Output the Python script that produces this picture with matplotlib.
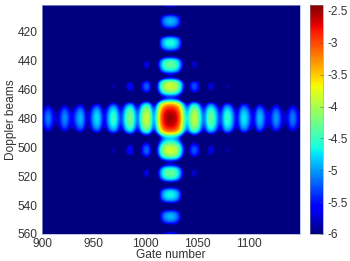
import matplotlib
matplotlib.use("Agg")
import matplotlib.pyplot as plt
import numpy as np

plt.rcParams["font.family"] = ["Liberation Sans", "DejaVu Sans"]

# level along the gate axis relative to the peak, one sample every 4 gates from 900
gate_profile = [
    -3.35, -2.62, -2.62, -3.35, -3.30, -2.57, -2.57, -3.30,
    -2.85, -2.37, -2.50, -3.60, -2.70, -2.20, -2.35, -3.40,
    -2.45, -1.97, -2.10, -3.20, -2.15, -1.67, -1.80, -3.00,
    -1.80, -1.32, -1.45, -2.90, -1.40, -0.40, -0.08, 0.00,
    -0.08, -0.40, -1.40, -2.60, -1.50, -1.37, -1.85, -3.00,
    -1.90, -1.77, -2.25, -3.20, -2.10, -1.97, -2.45, -3.40,
    -2.30, -2.17, -2.65, -3.40, -2.37, -2.37, -3.10, -3.25,
    -2.52, -2.52, -3.25, -3.35, -2.62, -2.62, -3.35,
]

# log level along the Doppler axis, one sample every 3 beams from 400
doppler_profile = [
    -5.10, -5.65, -7.00, -5.15, -4.82, -4.90, -5.45, -7.00,
    -4.85, -4.52, -4.60, -5.15, -6.80, -4.55, -4.22, -4.30,
    -4.85, -6.50, -4.10, -3.77, -3.85, -4.40, -6.00, -3.60,
    -2.95, -2.62, -2.47, -2.45, -2.55, -2.78, -3.25, -5.00,
    -4.60, -3.90, -3.75, -3.90, -4.60, -6.40, -4.55, -4.22,
    -4.30, -4.85, -6.80, -4.90, -4.57, -4.65, -5.20, -7.00,
    -5.15, -4.82, -4.90, -5.45, -7.00, -5.45, -5.12,
]

x_ticks = [900, 950, 1000, 1050, 1100]
y_ticks = [420, 440, 460, 480, 500, 520, 540, 560]
cbar_ticks = [-2.5, -3, -3.5, -4, -4.5, -5, -5.5, -6]
cbar_labels = ["-2.5", "-3", "-3.5", "-4", "-4.5", "-5", "-5.5", "-6"]

field = np.add.outer(np.array(doppler_profile), np.array(gate_profile))
text_color = "#333333"

fig = plt.figure(figsize=(3.5, 2.61), dpi=100)
ax = fig.add_axes([42 / 350, 1 - 234 / 261, 258 / 350, 229.5 / 261])
im = ax.imshow(field, cmap="jet", vmin=-6, vmax=-2.4, aspect="auto",
               interpolation="bicubic", extent=[898, 1150, 563.5, 398.5])
ax.set_xlim(900, 1149)
ax.set_ylim(560, 401)
ax.set_xticks(x_ticks)
ax.set_yticks(y_ticks)
ax.tick_params(length=0, labelsize=8.6, labelcolor=text_color, pad=3)
ax.set_xlabel("Gate number", fontsize=8.6, color=text_color, labelpad=-0.5)
ax.set_ylabel("Doppler beams", fontsize=8.6, color=text_color, labelpad=1)
for spine in ax.spines.values():
    spine.set_edgecolor("#9fb0d8")
    spine.set_linewidth(0.5)

cax = fig.add_axes([310 / 350, 1 - 234 / 261, 13 / 350, 229.5 / 261])
cbar = fig.colorbar(im, cax=cax)
cbar.set_ticks(cbar_ticks)
cbar.set_ticklabels(cbar_labels)
cbar.ax.tick_params(length=2, width=0.4, direction="in", color="#555555",
                    labelsize=8.6, labelcolor=text_color, pad=3)
cbar.outline.set_edgecolor("#888888")
cbar.outline.set_linewidth(0.4)

plt.savefig("out.png", dpi=100)
